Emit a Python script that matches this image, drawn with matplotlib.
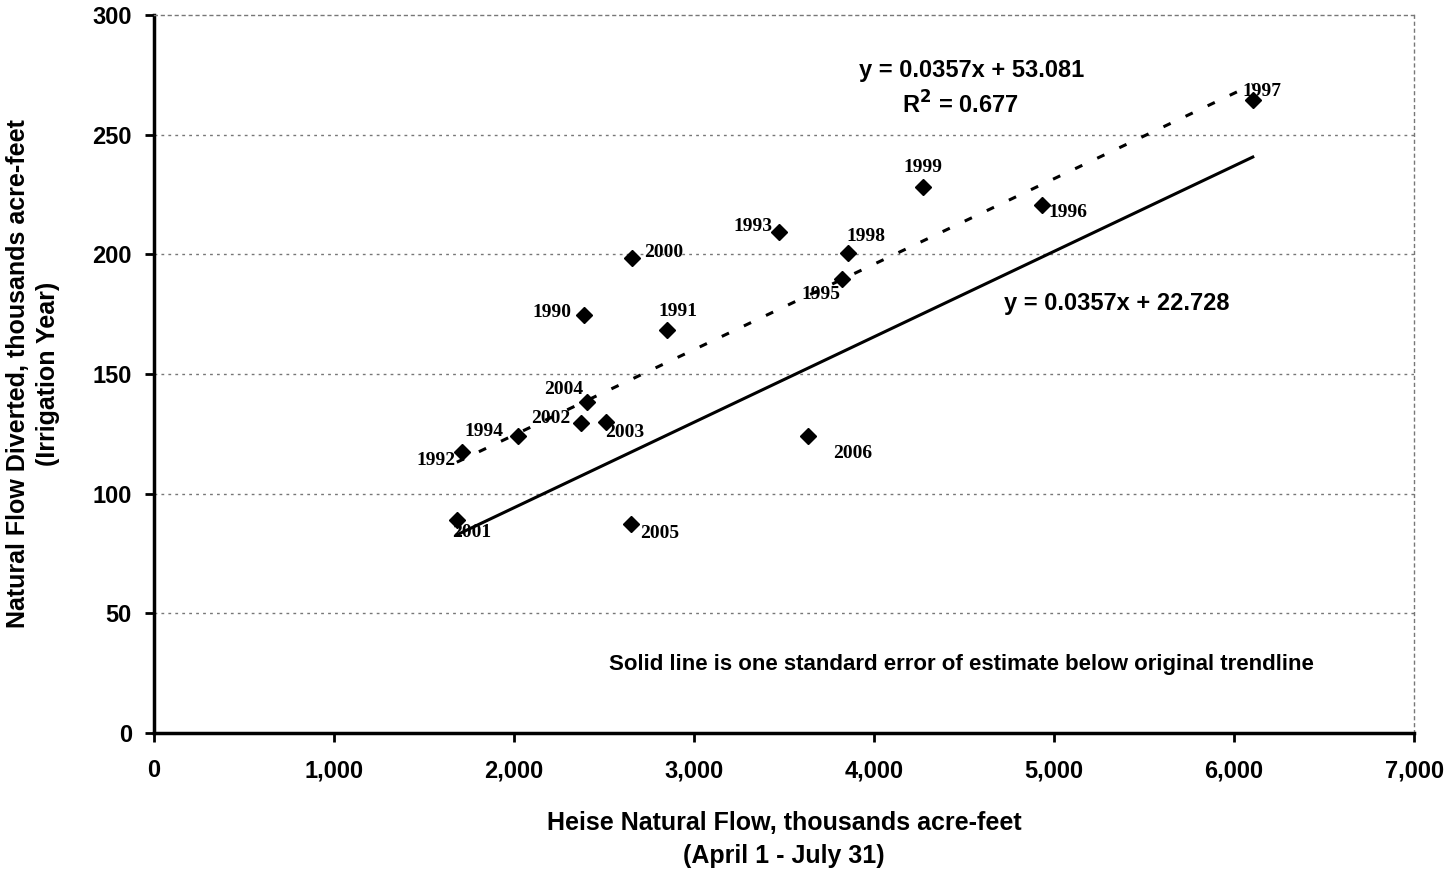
import matplotlib
matplotlib.use("Agg")
import matplotlib.pyplot as plt

years = [1990, 1991, 1992, 1993, 1994, 1995, 1996, 1997, 1998, 1999,
         2000, 2001, 2002, 2003, 2004, 2005, 2006]
heise = [2389, 2852, 1709, 3472, 2021, 3821, 4932, 6104, 3857, 4271,
         2654, 1682, 2371, 2511, 2404, 2648, 3633]
diverted = [174.7, 168.4, 117.5, 209.4, 124.1, 189.6, 220.6, 264.5, 200.5, 228.0,
            198.4, 89.0, 129.4, 129.8, 138.2, 87.3, 124.1]

slope = 0.0357
icpt_trend = 53.081
icpt_low = 22.728

x_ticks = [0, 1000, 2000, 3000, 4000, 5000, 6000, 7000]
y_ticks = [0, 50, 100, 150, 200, 250, 300]

# label offsets in pixels (dx, dy, ha)
offs = {1990: (-13, 2, "right"), 1991: (-9, 18, "left"), 1992: (-6, -9, "right"),
        1993: (-7, 5, "right"), 1994: (-14, 4, "right"), 1995: (-1, -15, "right"),
        1996: (7, -8, "left"), 1997: (-10, 8, "left"), 1998: (-2, 17, "left"),
        1999: (0, 20, "center"), 2000: (12, 6, "left"), 2001: (-5, -13, "left"),
        2002: (-10, 5, "right"), 2003: (-1, -10, "left"), 2004: (-4, 13, "right"),
        2005: (9, -9, "left"), 2006: (25, -18, "left")}

plt.rcParams["font.family"] = ["Liberation Sans", "DejaVu Sans"]
plt.rcParams["font.weight"] = "bold"
plt.rcParams["axes.labelweight"] = "bold"

fig = plt.figure(figsize=(14.56, 8.75), dpi=100)
ax = fig.add_axes([0.1058, 0.1623, 0.8654, 0.8206])

for yv in y_ticks[1:-1]:
    ax.axhline(yv, color="#777777", lw=1, ls=(0, (2, 3)), zorder=1)

ax.plot(heise, diverted, "D", color="black", ms=8, zorder=4)

xs = [min(heise), max(heise)]
ax.plot(xs, [slope * v + icpt_trend for v in xs], color="black", lw=2.2,
        dashes=(2.6, 5.4), zorder=3)
ax.plot(xs, [slope * v + icpt_low for v in xs], color="black", lw=2.2, zorder=3)

for yr, xv, yv in zip(years, heise, diverted):
    dx, dy, ha = offs[yr]
    ax.annotate(str(yr), (xv, yv), xytext=(dx, dy), textcoords="offset pixels",
                ha=ha, va="center", fontsize=14, fontweight="bold",
                family=["Liberation Serif", "DejaVu Serif"])

ax.text(4544, 276.6, "y = 0.0357x + 53.081", ha="center", va="center", fontsize=17)
ax.text(4478, 262.4, "R$^2$ = 0.677", ha="center", va="center", fontsize=17)
ax.text(4722, 179.3, "y = 0.0357x + 22.728", ha="left", va="center", fontsize=17)
ax.text(4483, 28.8, "Solid line is one standard error of estimate below original trendline",
        ha="center", va="center", fontsize=16)

ax.set_xlim(0, 7000)
ax.set_ylim(0, 300)
ax.set_xticks(x_ticks)
ax.set_xticklabels([f"{v:,}" for v in x_ticks])
ax.set_yticks(y_ticks)
ax.tick_params(labelsize=17, width=2, length=6.5)
ax.tick_params(axis="x", pad=12.5)
ax.tick_params(axis="y", pad=9.5)

for s in ["left", "bottom"]:
    ax.spines[s].set_linewidth(2.5)
for s in ["top", "right"]:
    ax.spines[s].set_linestyle((0, (2, 3)))
    ax.spines[s].set_color("#777777")
    ax.spines[s].set_linewidth(1)

ax.set_xlabel("Heise Natural Flow, thousands acre-feet\n(April 1 - July 31)",
              fontsize=18, linespacing=1.5, va="center")
ax.xaxis.set_label_coords(0.5, -0.148)
ax.set_ylabel("Natural Flow Diverted, thousands acre-feet\n(Irrigation Year)",
              fontsize=18, linespacing=1.3, va="center")
ax.yaxis.set_label_coords(-0.096, 0.5)

fig.savefig("out.png", dpi=100)
